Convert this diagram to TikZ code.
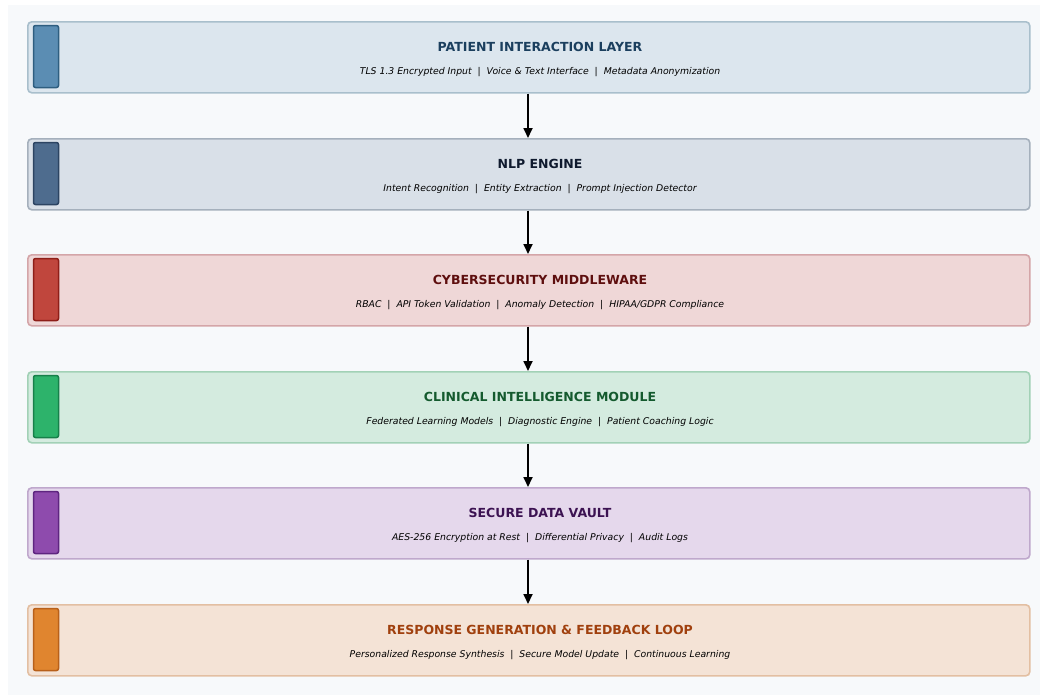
\documentclass[tikz,border=0pt]{standalone}
\usepackage{fontspec}
\setmainfont{DejaVu Sans}
\usetikzlibrary{arrows.meta}
\definecolor{bgc}{HTML}{F7F9FB}
\definecolor{fA}{HTML}{DCE6EE}\definecolor{dA}{HTML}{A9BFCC}\definecolor{aA}{HTML}{5B8DB3}\definecolor{bA}{HTML}{2E5E80}\definecolor{tA}{HTML}{1B3F5E}
\definecolor{fB}{HTML}{D9E0E8}\definecolor{dB}{HTML}{A5B0BC}\definecolor{aB}{HTML}{4E6C8E}\definecolor{bB}{HTML}{2C4462}\definecolor{tB}{HTML}{0F1A2E}
\definecolor{fC}{HTML}{EFD7D7}\definecolor{dC}{HTML}{D4A5A8}\definecolor{aC}{HTML}{C0463D}\definecolor{bC}{HTML}{8E1E18}\definecolor{tC}{HTML}{5E0E0E}
\definecolor{fD}{HTML}{D4EBDF}\definecolor{dD}{HTML}{A2D1B6}\definecolor{aD}{HTML}{2DB36B}\definecolor{bD}{HTML}{17804A}\definecolor{tD}{HTML}{145A2E}
\definecolor{fE}{HTML}{E5D8EC}\definecolor{dE}{HTML}{BFA8CC}\definecolor{aE}{HTML}{8E4BAD}\definecolor{bE}{HTML}{5E2580}\definecolor{tE}{HTML}{3C1252}
\definecolor{fF}{HTML}{F4E3D6}\definecolor{dF}{HTML}{E3BFA2}\definecolor{aF}{HTML}{E0852F}\definecolor{bF}{HTML}{B8601A}\definecolor{tF}{HTML}{A0400E}
\tikzset{
  layerbox/.style={draw=d#1, fill=f#1, line width=1.6pt, rounded corners=4pt, minimum width=1002pt, minimum height=71pt, anchor=north west, inner sep=0pt},
  accentbar/.style={draw=b#1, fill=a#1, line width=1.5pt, rounded corners=2pt, minimum width=25pt, minimum height=62pt, inner sep=0pt},
  titletext/.style={text=t#1, font=\bfseries\fontsize{12.5}{14}\selectfont, inner sep=0pt},
  subtext/.style={text=black, font=\itshape\fontsize{9.3}{11}\selectfont, inner sep=0pt},
  flow/.style={-{Triangle[length=10pt,width=9pt]}, line width=1.7pt, black}
}
\begin{document}
\begin{tikzpicture}[x=1pt,y=-1pt]
\fill[white] (0,0) rectangle (1044,697);
\fill[bgc] (8,5) rectangle (1040,695);
\useasboundingbox (0,0) rectangle (1044,697);
\foreach \k/\y/\T/\S in {
 A/21/{PATIENT INTERACTION LAYER}/{TLS 1.3 Encrypted Input \ | \ Voice \& Text Interface \ | \ Metadata Anonymization},
 B/138/{NLP ENGINE}/{Intent Recognition \ | \ Entity Extraction \ | \ Prompt Injection Detector},
 C/254/{CYBERSECURITY MIDDLEWARE}/{RBAC \ | \ API Token Validation \ | \ Anomaly Detection \ | \ HIPAA/GDPR Compliance},
 D/371/{CLINICAL INTELLIGENCE MODULE}/{Federated Learning Models \ | \ Diagnostic Engine \ | \ Patient Coaching Logic},
 E/487/{SECURE DATA VAULT}/{AES-256 Encryption at Rest \ | \ Differential Privacy \ | \ Audit Logs},
 F/604/{RESPONSE GENERATION \& FEEDBACK LOOP}/{Personalized Response Synthesis \ | \ Secure Model Update \ | \ Continuous Learning}} {
  \node[layerbox=\k] (box\k) at (27,\y) {};
  \node[accentbar=\k] (bar\k) at (46,\y+35.5) {};
  \node[titletext=\k] (title\k) at (540,\y+25.5) {\T};
  \node[subtext] (sub\k) at (540,\y+51.3) {\S};
}
\foreach \a/\b in {A/B,B/C,C/D,D/E,E/F} {
  \draw[flow] (box\a.south -| 528,0) -- (box\b.north -| 528,0);
}
\end{tikzpicture}
\end{document}
